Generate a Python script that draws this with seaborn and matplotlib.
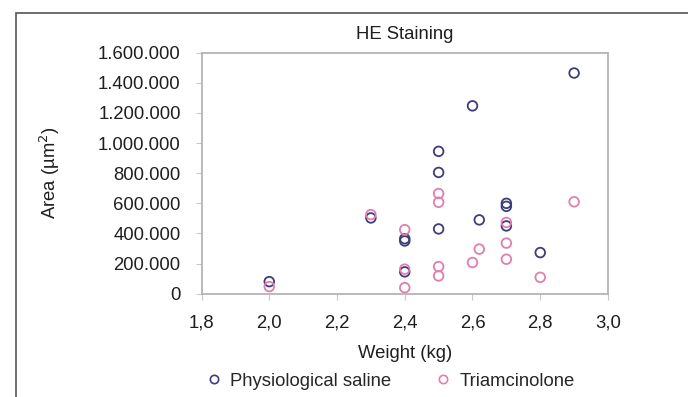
import matplotlib
matplotlib.use("Agg")
import matplotlib.pyplot as plt
from matplotlib.lines import Line2D
from matplotlib.patches import Rectangle
from matplotlib.ticker import FuncFormatter, MultipleLocator
import seaborn as sns
import pandas as pd

# Weight (kg) and lesion area (µm²) per animal
saline_weight = [2.0, 2.3, 2.4, 2.4, 2.4, 2.5, 2.5, 2.5, 2.6, 2.62, 2.7, 2.7, 2.7, 2.8, 2.9]
saline_area = [80000, 503000, 365000, 350000, 145000, 945000, 805000, 430000,
               1247000, 490000, 600000, 580000, 450000, 273000, 1465000]

triam_weight = [2.0, 2.3, 2.4, 2.4, 2.4, 2.5, 2.5, 2.5, 2.5, 2.6, 2.62, 2.7, 2.7, 2.7, 2.8, 2.9]
triam_area = [47000, 525000, 425000, 163000, 40000, 665000, 607000, 180000, 118000,
              207000, 296000, 473000, 336000, 229000, 109000, 610000]

group_names = ["Physiological saline", "Triamcinolone"]
group_colors = ["#3d3c7c", "#e07fae"]

df = pd.concat([
    pd.DataFrame({"weight": saline_weight, "area": saline_area, "group": group_names[0]}),
    pd.DataFrame({"weight": triam_weight, "area": triam_area, "group": group_names[1]}),
])

sns.set_theme(style="white")
plt.rcParams["font.family"] = ["Liberation Sans", "DejaVu Sans"]

FS = 13.3
TXT = "#1e1e1e"

fig = plt.figure(figsize=(6.88, 3.97), dpi=100)
ax = fig.add_axes([0.2929, 0.2602, 0.5908, 0.6071])

for name, col in zip(group_names, group_colors):
    sub = df[df["group"] == name]
    sns.scatterplot(data=sub, x="weight", y="area", ax=ax, marker="o", s=48,
                    facecolors="none", edgecolor=col, linewidth=1.3, legend=False)

ax.set_xlim(1.8, 3.0)
ax.set_ylim(0, 1600000)
ax.xaxis.set_major_locator(MultipleLocator(0.2))
ax.yaxis.set_major_locator(MultipleLocator(200000))
ax.xaxis.set_major_formatter(FuncFormatter(lambda v, p: f"{v:.1f}".replace(".", ",")))
ax.yaxis.set_major_formatter(FuncFormatter(lambda v, p: f"{int(round(v)):,}".replace(",", ".")))

for sp in ax.spines.values():
    sp.set_visible(True)
    sp.set_color("#b4b4b4")
    sp.set_linewidth(1.3)

ax.tick_params(axis="both", which="major", direction="out", length=4, width=0.8,
               color="#c8c8c8", labelsize=FS, labelcolor=TXT, pad=11,
               left=True, bottom=True)

ax.set_xlabel("Weight (kg)", fontsize=FS, color=TXT, labelpad=9.5)
ax.set_ylabel("Area (µm$^2$)", fontsize=FS, color=TXT, labelpad=26)
ax.set_title("HE Staining", fontsize=FS, color=TXT, pad=10)

handles = [Line2D([0], [0], marker="o", linestyle="none", markersize=6,
                  markerfacecolor="none", markeredgecolor=c, markeredgewidth=1.2)
           for c in group_colors]
fig.legend(handles, group_names, loc="center", bbox_to_anchor=(389 / 688, 1 - 381 / 397),
           ncol=2, frameon=False, fontsize=FS, columnspacing=2.2,
           handletextpad=0.3, handlelength=1.2)

# outer frame around the panel
fig.add_artist(Rectangle((16 / 688, -0.05), 1.0, 1 - 13 / 397 + 0.05,
                         transform=fig.transFigure, fill=False,
                         edgecolor="#555555", linewidth=1.2))

fig.savefig("out.png", dpi=100, facecolor="white")
